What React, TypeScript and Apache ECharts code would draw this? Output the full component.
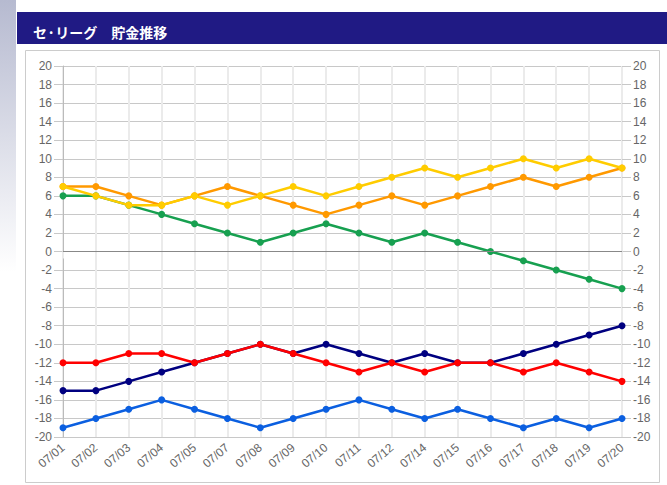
import React, { useEffect, useRef } from "react";
import * as echarts from "echarts";

const categories = ["07/01","07/02","07/03","07/04","07/05","07/07","07/08","07/09","07/10","07/11","07/12","07/14","07/15","07/16","07/17","07/18","07/19","07/20"];
const seriesNames = ["green", "blue", "navy", "red", "orange", "yellow"];
const greenValues = [6,6,5,4,3,2,1,2,3,2,1,2,1,0,-1,-2,-3,-4];
const blueValues = [-19,-18,-17,-16,-17,-18,-19,-18,-17,-16,-17,-18,-17,-18,-19,-18,-19,-18];
const navyValues = [-15,-15,-14,-13,-12,-11,-10,-11,-10,-11,-12,-11,-12,-12,-11,-10,-9,-8];
const redValues = [-12,-12,-11,-11,-12,-11,-10,-11,-12,-13,-12,-13,-12,-12,-13,-12,-13,-14];
const orangeValues = [7,7,6,5,6,7,6,5,4,5,6,5,6,7,8,7,8,9];
const yellowValues = [7,6,5,5,6,5,6,7,6,7,8,9,8,9,10,9,10,9];
const seriesColors = ["#17A050", "#0B5FE0", "#000080", "#FF0000", "#FF9900", "#FFCC00"];
const titleText = "セ·リーグ　貯金推移";

export default function App() {
  const ref = useRef<HTMLDivElement>(null);
  useEffect(() => {
    if (!ref.current) return;
    const chart = echarts.init(ref.current, null, { renderer: "svg" });
    const values = [greenValues, blueValues, navyValues, redValues, orangeValues, yellowValues];
    const font = "'Liberation Sans', Arial, sans-serif";
    const yAxisBase = {
      type: "value" as const,
      min: -20,
      max: 20,
      interval: 2,
      axisLabel: { color: "#666", fontSize: 12, fontFamily: font },
    };
    chart.setOption({
      animation: false,
      backgroundColor: "#fff",
      title: {
        text: titleText,
        left: 28,
        top: 18,
        textStyle: { color: "#fff", fontSize: 14, fontWeight: "bold", fontFamily: "'Noto Sans CJK JP', sans-serif", lineHeight: 18 },
      },
      graphic: [
        {
          type: "rect",
          shape: { x: 0, y: 0, width: 16, height: 272 },
          style: {
            fill: new echarts.graphic.LinearGradient(0, 0, 0, 1, [
              { offset: 0, color: "#B6BAD0" },
              { offset: 1, color: "#FFFFFF" },
            ]),
          },
          z: -10,
        },
        {
          type: "rect",
          shape: { x: 17, y: 12, width: 650, height: 32 },
          style: { fill: "#201A84" },
          z: -10,
        },
        {
          type: "rect",
          shape: { x: 25.5, y: 50.5, width: 634, height: 432 },
          style: { fill: "none", stroke: "#CCCCCC", lineWidth: 1 },
          z: -10,
        },
      ],
      grid: { left: 63, right: 45, top: 66, bottom: 48, containLabel: false },
      xAxis: {
        type: "category",
        data: categories,
        boundaryGap: false,
        axisLine: { show: false },
        axisTick: { show: true, length: 7, lineStyle: { color: "#EBEBEB", width: 2 } },
        splitLine: { show: true, lineStyle: { color: "#EBEBEB", width: 2 } },
        axisLabel: { color: "#666", fontSize: 12, fontFamily: font, rotate: 40, margin: 9, interval: 0 },
      },
      yAxis: [
        {
          ...yAxisBase,
          position: "left",
          axisLine: { show: true, onZero: false, lineStyle: { color: "#BBBBBB", width: 1 } },
          axisTick: { show: true, length: 9, lineStyle: { color: "#C8C8C8" } },
          axisLabel: { ...yAxisBase.axisLabel, margin: 11 },
          splitLine: {
            show: true,
            lineStyle: { color: "#C8C8C8", width: 1 },
          },
        },
        {
          ...yAxisBase,
          position: "right",
          axisLine: { show: false },
          axisTick: { show: true, length: 9, lineStyle: { color: "#C8C8C8" } },
          axisLabel: { ...yAxisBase.axisLabel, margin: 11 },
          splitLine: { show: false },
        },
      ],
      series: [
        {
          type: "line",
          data: [],
          yAxisIndex: 0,
          silent: true,
          markLine: {
            symbol: "none",
            silent: true,
            label: { show: false },
            lineStyle: { color: "#888888", width: 1, type: "solid" },
            data: [{ yAxis: 0 }],
          },
        },
        ...seriesNames.map((name, i) => ({
          name,
          type: "line",
          data: values[i],
          yAxisIndex: 0,
          symbol: "circle",
          symbolSize: 7,
          showSymbol: true,
          lineStyle: { width: 2.5, color: seriesColors[i] },
          itemStyle: { color: seriesColors[i] },
          z: 3 + i,
        })),
      ],
    });
    return () => chart.dispose();
  }, []);
  return (
    <div style={{ position: "fixed", left: 0, top: 0, width: 667, height: 485 }}>
      <div ref={ref} style={{ width: 667, height: 485 }} />
    </div>
  );
}
